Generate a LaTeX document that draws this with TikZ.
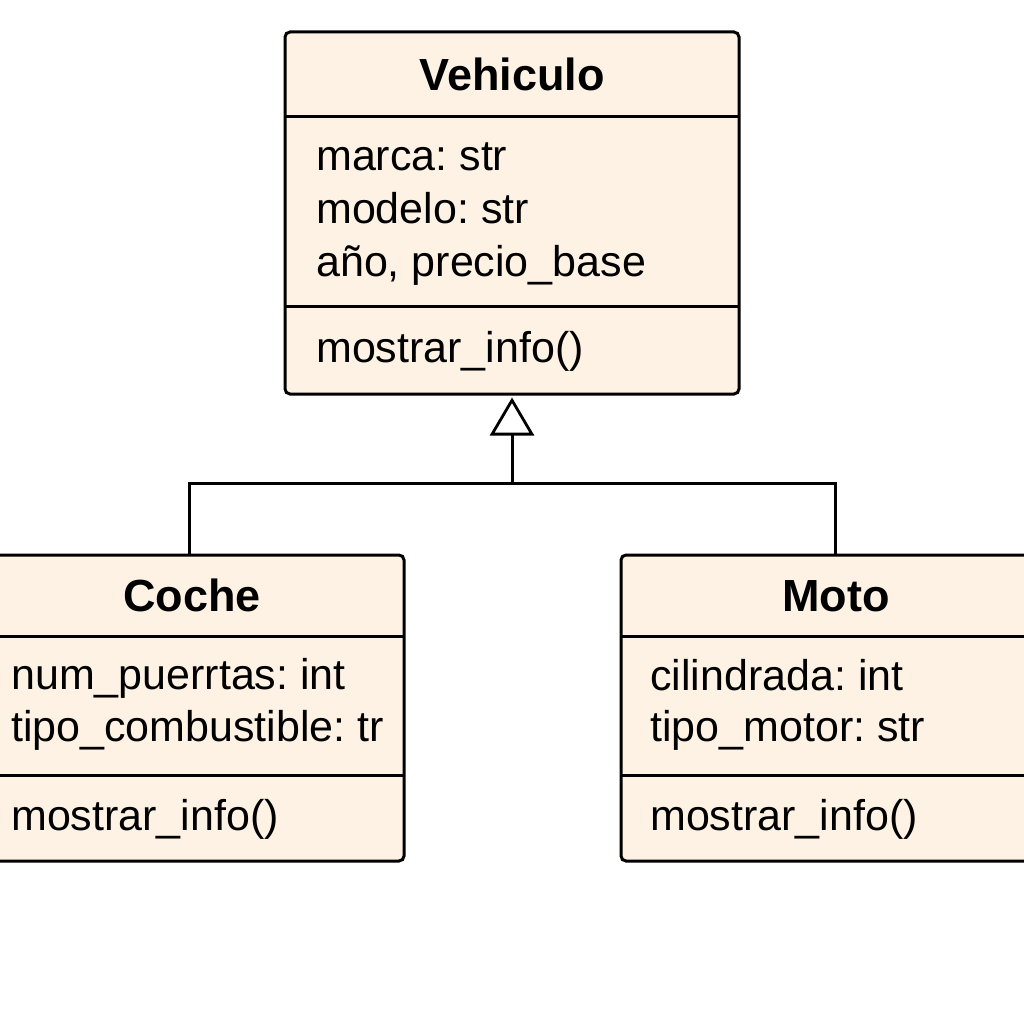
\documentclass[tikz,border=0pt]{standalone}
\usepackage{fontspec}
\setmainfont{Liberation Sans}
\frenchspacing
\usetikzlibrary{arrows.meta}
\definecolor{cream}{HTML}{FDF2E3}
\tikzset{
  classbox/.style={draw=black, line width=3pt, fill=cream, rounded corners=5pt, inner sep=0pt},
  divider/.style={draw=black, line width=3pt},
  titletxt/.style={anchor=base, inner sep=0pt, font=\fontsize{45}{50}\selectfont\bfseries},
  attrtxt/.style={anchor=base west, inner sep=0pt, font=\fontsize{43}{50}\selectfont},
  conn/.style={draw=black, line width=3pt},
  inherit/.style={conn, -{Triangle[open, length=38pt, width=44pt, line width=2.8pt]}}
}
\begin{document}
\begin{tikzpicture}[x=1pt, y=-1pt]
\useasboundingbox (0,0) rectangle (1024,1024);
\clip (0,0) rectangle (1024,1024);
\fill[white] (0,0) rectangle (1024,1024);

% Vehiculo
\node[classbox, minimum width=454pt, minimum height=362pt] (veh) at (512,213) {};
\draw[divider] (285,116.5) -- (739,116.5);
\draw[divider] (285,306) -- (739,306);
\node[titletxt] (vehT) at (512,91) {Vehiculo};
\node[attrtxt] (vehA1) at (316,171) {marca: str};
\node[attrtxt] (vehA2) at (316,223.5) {modelo: str};
\node[attrtxt] (vehA3) at (316,276) {año, precio\_base};
\node[attrtxt] (vehM1) at (316,362) {mostrar\_info()};

% Coche
\node[classbox, minimum width=424pt, minimum height=306pt] (coche) at (192,708) {};
\draw[divider] (-20,636.5) -- (404,636.5);
\draw[divider] (-20,775) -- (404,775);
\node[titletxt] (cocheT) at (192,611.5) {Coche};
\node[attrtxt] (cocheA1) at (11,689) {num\_puerrtas: int};
\node[attrtxt] (cocheA2) at (11,741) {tipo\_combustible: tr};
\node[attrtxt] (cocheM1) at (11,830) {mostrar\_info()};

% Moto
\node[classbox, minimum width=430pt, minimum height=306pt] (moto) at (836,708) {};
\draw[divider] (621,636.5) -- (1051,636.5);
\draw[divider] (621,775) -- (1051,775);
\node[titletxt] (motoT) at (836,611.5) {Moto};
\node[attrtxt] (motoA1) at (650,690) {cilindrada: int};
\node[attrtxt] (motoA2) at (650,741.5) {tipo\_motor: str};
\node[attrtxt] (motoM1) at (650,830) {mostrar\_info()};

% Inheritance connectors
\coordinate (j) at (512,483);
\coordinate (jc) at (189,483);
\coordinate (jm) at (835,483);
\draw[conn] (coche.north -| jc) -- (jc) -- (jm) -- (moto.north -| jm);
\draw[inherit] (j) -- ([yshift=-2pt]veh.south);
\end{tikzpicture}
\end{document}
